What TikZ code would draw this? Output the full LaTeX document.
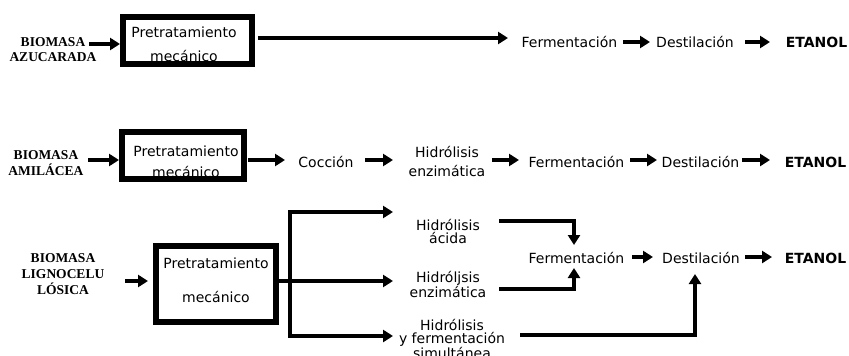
\documentclass[tikz,border=0pt]{standalone}
\usepackage{fontspec}
\setmainfont{DejaVu Sans}
\newfontfamily\biof{Liberation Serif}
\usetikzlibrary{arrows.meta}
\tikzset{
  arr/.style={line width=3.5pt, -{Triangle[length=10pt,width=12pt]}},
  ln/.style={line width=3.5pt},
  pbox/.style={draw, line width=6pt, inner sep=0pt},
  txt/.style={font=\fontsize{14}{17}\selectfont, inner sep=0pt, anchor=base},
  mtxt/.style={font=\fontsize{14}{#1}\selectfont, inner sep=0pt, align=center, anchor=center},
  bio/.style={font=\biof\bfseries\fontsize{13.5}{#1}\selectfont, inner sep=0pt, align=center, anchor=center},
  eta/.style={font=\bfseries\fontsize{14}{17}\selectfont, inner sep=0pt, anchor=base}
}
\begin{document}
\begin{tikzpicture}[x=1pt,y=-1pt]
\useasboundingbox[fill=white] (0,0) rectangle (849,356);

% ---------- Row 1 ----------
\node[bio=15] (l1) at (53,49.5) {BIOMASA\\AZUCARADA};
\node[txt] (p1a) at (184,37) {Pretratamiento};
\node[txt] (p1b) at (184,61) {mecánico};
\node[txt] (f1) at (569.5,47) {Fermentación};
\node[txt] (d1) at (695,47) {Destilación};
\node[eta] (e1) at (816.5,47) {ETANOL};
\coordinate (r1a) at (89,44);
\coordinate (r1b) at (258,38);
\coordinate (r1c) at (508,38);
\coordinate (r1d) at (623,42);
\coordinate (r1e) at (650,42);
\coordinate (r1f) at (745,42);
\coordinate (r1g) at (770,42);
\node[pbox, minimum width=129pt, minimum height=47pt] (b1) at (187.5,40.5) {};
\draw[arr] (r1a) -- (r1a -| b1.west);
\draw[arr] (r1b) -- (r1c);
\draw[arr] (r1d) -- (r1e);
\draw[arr] (r1f) -- (r1g);

% ---------- Row 2 ----------
\node[bio=16] (l2) at (46,163.5) {BIOMASA\\AMILÁCEA};
\node[txt] (p2a) at (186,156) {Pretratamiento};
\node[txt] (p2b) at (186,177) {mecánico};
\node[txt] (c2) at (326,167) {Cocción};
\node[mtxt=19] (h2) at (447,161) {Hidrólisis\\enzimática};
\node[txt] (f2) at (576.5,167) {Fermentación};
\node[txt] (d2) at (700.5,167) {Destilación};
\node[eta] (e2) at (815.5,167) {ETANOL};
\coordinate (r2a) at (88,160);
\coordinate (r2b) at (248,160);
\coordinate (r2c) at (285,160);
\coordinate (r2d) at (365,160);
\coordinate (r2e) at (393,160);
\coordinate (r2f) at (492,160);
\coordinate (r2g) at (519,160);
\coordinate (r2h) at (630,160);
\coordinate (r2i) at (657,160);
\coordinate (r2j) at (742,160);
\coordinate (r2k) at (770,160);
\node[pbox, minimum width=122pt, minimum height=47pt] (b2) at (183,155.5) {};
\draw[arr] (r2a) -- (r2a -| b2.west);
\draw[arr] (r2b) -- (r2c);
\draw[arr] (r2d) -- (r2e);
\draw[arr] (r2f) -- (r2g);
\draw[arr] (r2h) -- (r2i);
\draw[arr] (r2j) -- (r2k);

% ---------- Row 3 ----------
\node[bio=16] (l3) at (63,274) {BIOMASA\\LIGNOCELU\\LÓSICA};
\node[txt] (p3a) at (216,268) {Pretratamiento};
\node[txt] (p3b) at (216,302) {mecánico};
\node[mtxt=12.5] (ha) at (448,231.5) {Hidrólisis\\ácida};
\node[mtxt=14] (he) at (448,284.5) {Hidróljsis\\enzimática};
\node[mtxt=12.5] (hs) at (452,339) {Hidrólisis\\y fermentación\\simultánea};
\node[txt] (f3) at (576.5,263) {Fermentación};
\node[txt] (d3) at (701,263) {Destilación};
\node[eta] (e3) at (815.5,263) {ETANOL};
\node[pbox, minimum width=120pt, minimum height=76pt] (b3) at (216,284) {};
\coordinate (r3a) at (125,281);
\coordinate (r3b) at (148,281);
\coordinate (j3) at (290,281);
\coordinate (t3a) at (393,212);
\coordinate (t3b) at (393,281);
\coordinate (t3c) at (393,336);
\coordinate (ha-o) at (499,221);
\coordinate (ha-t) at (574,245);
\coordinate (he-o) at (499,289);
\coordinate (he-t) at (574,268);
\coordinate (hs-o) at (520,335);
\coordinate (hs-t) at (695,274);
\coordinate (r3c) at (632,257);
\coordinate (r3d) at (653,257);
\coordinate (r3e) at (745,257);
\coordinate (r3f) at (772,257);
\draw[arr] (r3a) -- (r3b);
\draw[ln] (b3.east |- j3) -- (j3);
\draw[arr] (j3) |- (t3a);
\draw[arr] (j3) -- (t3b);
\draw[arr] (j3) |- (t3c);
\draw[arr] (ha-o) -| (ha-t);
\draw[arr] (he-o) -| (he-t);
\draw[arr] (hs-o) -| (hs-t);
\draw[arr] (r3c) -- (r3d);
\draw[arr] (r3e) -- (r3f);
\end{tikzpicture}
\end{document}
